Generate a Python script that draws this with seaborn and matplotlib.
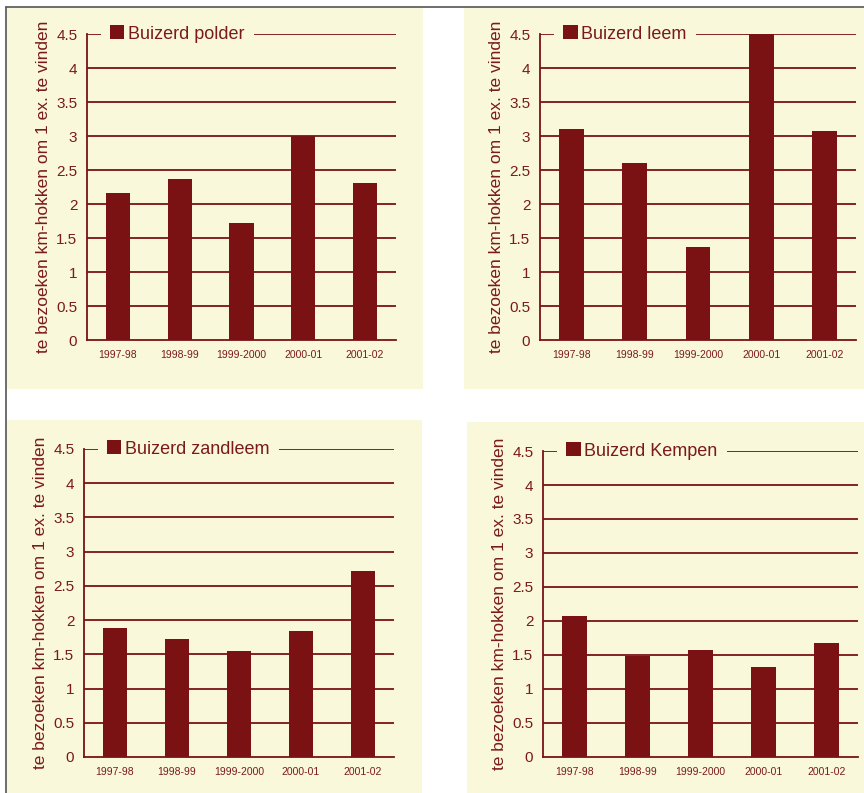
import matplotlib
matplotlib.use("Agg")
import matplotlib.pyplot as plt
from matplotlib.patches import Rectangle
from matplotlib.lines import Line2D
import seaborn as sns

seizoenen = ['1997-98', '1998-99', '1999-2000', '2000-01', '2001-02']
polder = [2.16, 2.37, 1.72, 3.00, 2.31]
leem = [3.10, 2.60, 1.37, 4.50, 3.07]
zandleem = [1.88, 1.72, 1.55, 1.84, 2.72]
kempen = [2.08, 1.49, 1.57, 1.33, 1.67]
titels = ['Buizerd polder', 'Buizerd leem', 'Buizerd zandleem', 'Buizerd Kempen']
y_ticks = [0, 0.5, 1, 1.5, 2, 2.5, 3, 3.5, 4, 4.5]
y_labels = ['0', '0.5', '1', '1.5', '2', '2.5', '3', '3.5', '4', '4.5']
y_titel = 'te bezoeken km-hokken om 1 ex. te vinden'

ROOD = '#7a1214'
TEKST = '#7a1a1c'
CREME = '#faf8da'
W, H = 864, 793

sns.set_style("white")
plt.rcParams['font.family'] = ['Liberation Sans', 'DejaVu Sans']

fig = plt.figure(figsize=(W / 100, H / 100), dpi=100)
fig.patch.set_facecolor('white')


def px_rect(x0, y0, x1, y1):
    # pixelcoordinaten (boven-links) naar figuurfracties
    return [x0 / W, 1 - y1 / H, (x1 - x0) / W, (y1 - y0) / H]


# creme achtergronden per paneel (onder de assen)
for (x0, y0, x1, y1) in [(7, 8, 423, 389), (464, 8, 864, 389),
                         (7, 420, 422, 793), (467, 422, 864, 793)]:
    fig.patches.append(Rectangle((x0 / W, 1 - y1 / H), (x1 - x0) / W, (y1 - y0) / H,
                                 transform=fig.transFigure, facecolor=CREME,
                                 edgecolor='none', zorder=-5))

# grijze kaderlijnen links en boven
fig.add_artist(Line2D([6 / W, 1], [1 - 7 / H, 1 - 7 / H], transform=fig.transFigure,
                      color='#555555', lw=1.2))
fig.add_artist(Line2D([6 / W, 6 / W], [0, 1 - 7 / H], transform=fig.transFigure,
                      color='#555555', lw=1.2))

posities = [px_rect(87, 34, 396, 340), px_rect(540, 34, 856, 340),
            px_rect(84, 449, 394, 757), px_rect(543, 451, 858, 757)]
reeksen = [polder, leem, zandleem, kempen]

for pos, waarden, titel in zip(posities, reeksen, titels):
    ax = fig.add_axes(pos)
    ax.set_facecolor('none')
    for y in y_ticks[1:]:
        ax.axhline(y, color=ROOD, lw=1.3, zorder=0)
    sns.barplot(x=seizoenen, y=waarden, color=ROOD, width=0.39, saturation=1,
                linewidth=0, edgecolor=ROOD, ax=ax, label=titel, zorder=2)
    ax.set_xlim(-0.5, 4.5)
    ax.set_ylim(0, 4.5)
    ax.set_yticks(y_ticks)
    ax.set_yticklabels(y_labels)
    ax.set_xticks(range(5))
    ax.set_xticks([i - 0.5 for i in range(6)], minor=True)
    ax.tick_params(axis='x', which='major', length=0, labelsize=7.5, labelcolor=TEKST, pad=7)
    ax.tick_params(axis='x', which='minor', length=4, width=1.3, color=ROOD, direction='out')
    ax.tick_params(axis='y', length=5, width=1.3, color=ROOD, labelsize=11,
                   labelcolor=TEKST, pad=2, direction='out')
    for s in ['top', 'right']:
        ax.spines[s].set_visible(False)
    for s in ['left', 'bottom']:
        ax.spines[s].set_color(ROOD)
        ax.spines[s].set_linewidth(1.3)
    ax.set_ylabel(y_titel, fontsize=12.5, color=TEKST, labelpad=4)
    ax.set_xlabel('')
    leg = ax.legend(loc='center left', bbox_to_anchor=(0.045, 1.0), frameon=True,
                    fancybox=False, framealpha=1, facecolor=CREME, edgecolor='none',
                    fontsize=13, handlelength=0.8, handleheight=0.8,
                    handletextpad=0.2, borderpad=0.5, borderaxespad=0)
    for t in leg.get_texts():
        t.set_color(TEKST)

fig.savefig('out.png', dpi=100, facecolor='white')
